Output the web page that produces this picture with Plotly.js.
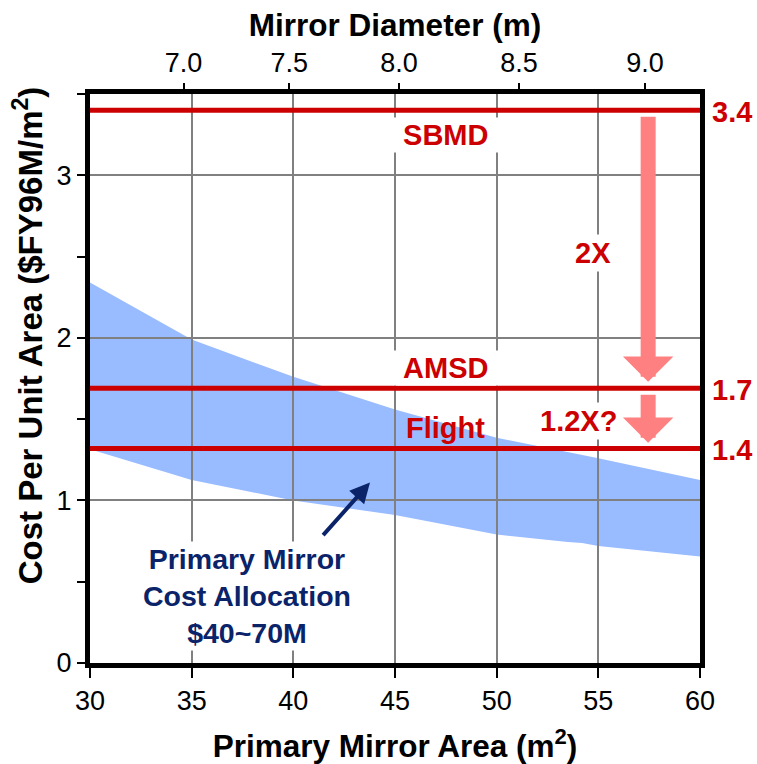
<!DOCTYPE html>
<html><head><meta charset="utf-8">
<script src="https://cdn.plot.ly/plotly-3.0.1.min.js"></script>
<style>html,body{margin:0;padding:0;background:#fff}#chart{width:757px;height:764px}</style>
</head><body><div id="chart"></div>
<script>
// ---- data ----
const areaUpper = [30, 35, 40, 45, 50, 55, 60];
const costUpper = [2.34, 1.99, 1.76, 1.56, 1.385, 1.26, 1.125];
const areaLower = [30, 35, 40, 45, 47.5, 50, 53.5, 54.2, 55, 60];
const costLower = [1.315, 1.125, 1.0, 0.91, 0.85, 0.79, 0.745, 0.738, 0.72, 0.655];
const programs = ['SBMD', 'AMSD', 'Flight'];
const programCost = [3.4, 1.69, 1.32];
const programCostLabel = ['3.4', '1.7', '1.4'];
const areaTicks = [30, 35, 40, 45, 50, 55, 60];
const costTicks = [0, 1, 2, 3];
const costTickText = ['0', '1', '2', '3'];
const diameterLabels = ['7.0', '7.5', '8.0', '8.5', '9.0'];
const diameterTickArea = [34.6, 39.8, 45.2, 51.1, 57.3];
const reductionLabels = ['2X', '1.2X?'];
const reductionFrom = [3.37, 1.66];
const reductionTo = [1.73, 1.355];
const reductionArea = 57.45;
const allocationText = 'Primary Mirror<br>Cost Allocation<br>$40~70M';

const AREA_RANGE = [30, 60];
const COST_RANGE = [0, 3.5];
const RED = '#cc0000', PINK = '#ff8080', BAND = '#99bbff', NAVY = '#0a2369';
const FONT = 'Liberation Sans, Arial, sans-serif';

const traces = [
  {x: areaLower, y: costLower, xaxis: 'x', yaxis: 'y', mode: 'lines',
   line: {width: 0, color: BAND}, hoverinfo: 'skip', showlegend: false},
  {x: areaUpper, y: costUpper, xaxis: 'x', yaxis: 'y', mode: 'lines', fill: 'tonexty',
   fillcolor: BAND, line: {width: 0, color: BAND}, hoverinfo: 'skip', showlegend: false}
];
programCost.forEach(v => traces.push({
  x: AREA_RANGE, y: [v, v], xaxis: 'x2', yaxis: 'y2', mode: 'lines',
  line: {color: RED, width: 5}, hoverinfo: 'skip', showlegend: false
}));
traces.push({x: [], y: [], xaxis: 'x3', yaxis: 'y2', mode: 'lines', showlegend: false});

const labelPos = [[47.5, 3.249, true], [47.5, 1.813, true], [47.5, 1.446, false]];
const annotations = [];
programs.forEach((p, i) => annotations.push({
  xref: 'x2', yref: 'y2', x: labelPos[i][0], y: labelPos[i][1],
  text: labelPos[i][2] ? '<b>&nbsp;' + p + '&nbsp;</b>' : '<b>' + p + '</b>',
  showarrow: false, font: {family: FONT, size: 29, color: RED},
  bgcolor: labelPos[i][2] ? '#ffffff' : 'rgba(0,0,0,0)', borderpad: 1
}));
programCostLabel.forEach((t, i) => annotations.push({
  xref: 'paper', yref: 'y2', x: 1, y: programCost[i], xanchor: 'left', yanchor: 'middle',
  xshift: 10, yshift: -2, text: '<b>' + t + '</b>', showarrow: false,
  font: {family: FONT, size: 29, color: RED}
}));
const redPos = [[54.72, 2.52], [54.0, 1.489]];
reductionLabels.forEach((t, i) => annotations.push({
  xref: 'x2', yref: 'y2', x: redPos[i][0], y: redPos[i][1], text: '<b>' + t + '</b>',
  showarrow: false, bgcolor: '#ffffff', borderpad: 2,
  font: {family: FONT, size: 29, color: RED}
}));
reductionFrom.forEach((f, i) => annotations.push({
  xref: 'x2', yref: 'y2', axref: 'x2', ayref: 'y2',
  x: reductionArea, y: reductionTo[i], ax: reductionArea, ay: f, text: '',
  showarrow: true, arrowhead: 1, arrowsize: 0.56, arrowwidth: 15, arrowcolor: PINK, standoff: 0
}));
annotations.push({
  xref: 'x2', yref: 'y2', x: 37.72, y: 0.412, text: '<b>' + allocationText + '</b>',
  showarrow: false, bgcolor: '#ffffff', borderpad: 1,
  font: {family: FONT, size: 28.5, color: NAVY}
});
annotations.push({
  xref: 'x2', yref: 'y2', axref: 'x2', ayref: 'y2',
  x: 43.77, y: 1.11, ax: 41.4, ay: 0.777, text: '', showarrow: true,
  arrowhead: 2, arrowsize: 1, arrowwidth: 4, arrowcolor: NAVY, standoff: 0
});
annotations.push({
  xref: 'paper', yref: 'paper', x: 0, y: 0.576, xanchor: 'center', yanchor: 'middle',
  xshift: -62, textangle: -90,
  text: '<b>Cost Per Unit Area ($FY96M/m<sup>2</sup>)</b>', showarrow: false,
  font: {family: FONT, size: 33, color: '#000'}
});

const layout = {
  width: 757, height: 764,
  margin: {l: 90, r: 57, t: 94, b: 101},
  paper_bgcolor: '#ffffff', plot_bgcolor: 'rgba(0,0,0,0)',
  showlegend: false,
  font: {family: FONT, color: '#000'},
  xaxis: {domain: [0, 1], range: AREA_RANGE, visible: false, anchor: 'y'},
  yaxis: {domain: [0, 1], range: COST_RANGE, visible: false, anchor: 'x'},
  xaxis2: {
    domain: [0, 1], range: AREA_RANGE, anchor: 'y2',
    tickvals: areaTicks, ticks: 'outside', ticklen: 10, tickwidth: 2, tickcolor: '#000',
    showgrid: true, gridcolor: '#808080', gridwidth: 2, zeroline: false,
    showline: true, linewidth: 5, linecolor: '#000', mirror: true,
    tickfont: {family: FONT, size: 27, color: '#000'},
    title: {text: '<b>Primary Mirror Area (m<sup>2</sup>)</b>', standoff: 21,
            font: {family: FONT, size: 31.5, color: '#000'}}
  },
  yaxis2: {
    domain: [0, 1], range: COST_RANGE, anchor: 'x2',
    tickvals: costTicks, ticktext: costTickText, ticks: 'outside', ticklen: 8, tickwidth: 2, tickcolor: '#000',
    minor: {dtick: 0.5, tick0: 0, ticks: 'outside', ticklen: 8, tickwidth: 2, tickcolor: '#000', showgrid: false},
    showgrid: true, gridcolor: '#808080', gridwidth: 2, zeroline: false,
    showline: true, linewidth: 5, linecolor: '#000', mirror: true,
    tickfont: {family: FONT, size: 27, color: '#000'}
  },
  xaxis3: {
    overlaying: 'x2', side: 'top', anchor: 'y2', range: AREA_RANGE,
    tickvals: diameterTickArea, ticktext: diameterLabels,
    ticks: 'outside', ticklen: 10, tickwidth: 2, tickcolor: '#000',
    showgrid: false, zeroline: false, showline: false,
    tickfont: {family: FONT, size: 27, color: '#000'},
    title: {text: '<b>Mirror Diameter (m)</b>', standoff: 2,
            font: {family: FONT, size: 31.5, color: '#000'}}
  },
  annotations: annotations
};

Plotly.newPlot('chart', traces, layout, {displayModeBar: false, staticPlot: true});
</script>
</body></html>
